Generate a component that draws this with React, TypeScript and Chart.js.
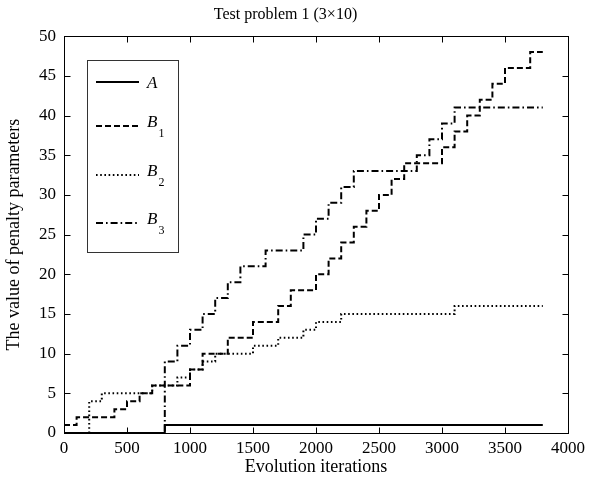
import React, { useEffect, useRef } from 'react';
import { Chart, registerables } from 'chart.js';

Chart.register(...registerables);

const FONT = "'Liberation Serif', 'Times New Roman', serif";

const chartTitle = 'Test problem 1 (3×10)';
const xTitle = 'Evolution iterations';
const yTitle = 'The value of penalty parameters';

const seriesNames = ['A', 'B1', 'B2', 'B3'];

const aX = [0, 800, 3800];
const aY = [0, 1, 1];

const b1X = [0, 100, 400, 500, 600, 700, 1000, 1100, 1300, 1500, 1700, 1800, 2000, 2100, 2200, 2300, 2400, 2500, 2600, 2700, 3000, 3100, 3200, 3300, 3400, 3500, 3700, 3800];
const b1Y = [1, 2, 3, 4, 5, 6, 8, 10, 12, 14, 16, 18, 20, 22, 24, 26, 28, 30, 32, 34, 36, 38, 40, 42, 44, 46, 48, 48];

const b2X = [0, 200, 300, 700, 900, 1000, 1100, 1200, 1500, 1700, 1900, 2000, 2200, 3100, 3800];
const b2Y = [0, 4, 5, 6, 7, 8, 9, 10, 11, 12, 13, 14, 15, 16, 16];

const b3X = [0, 800, 900, 1000, 1100, 1200, 1300, 1400, 1600, 1900, 2000, 2100, 2200, 2300, 2800, 2900, 3000, 3100, 3800];
const b3Y = [0, 9, 11, 13, 15, 17, 19, 21, 23, 25, 27, 29, 31, 33, 35, 37, 39, 41, 41];

const xMin = 0, xMax = 4000, xStep = 500;
const yMin = 0, yMax = 50, yStep = 5;

const dashes: number[][] = [[], [6, 3], [1.6, 2.6], [7, 3, 1.6, 3]];

const toPoints = (xs: number[], ys: number[]) => xs.map((x, i) => ({ x, y: ys[i] }));

const framePlugin = {
  id: 'frameAndLegend',
  afterDraw(chart: any) {
    const { ctx, chartArea, scales } = chart;
    const { left, right, top, bottom } = chartArea;
    const xs = scales.x;
    const ys = scales.y;
    ctx.save();
    ctx.strokeStyle = '#000';
    ctx.lineWidth = 1;
    ctx.setLineDash([]);
    const L = Math.round(left) + 0.5, R = Math.round(right) + 0.5;
    const T = Math.round(top) + 0.5, B = Math.round(bottom) + 0.5;
    ctx.strokeRect(L, T, R - L, B - T);
    const tl = 6;
    ctx.beginPath();
    xs.ticks.forEach((t: any) => {
      const p = Math.round(xs.getPixelForValue(t.value)) + 0.5;
      ctx.moveTo(p, B); ctx.lineTo(p, B - tl);
      ctx.moveTo(p, T); ctx.lineTo(p, T + tl);
    });
    ys.ticks.forEach((t: any) => {
      const p = Math.round(ys.getPixelForValue(t.value)) + 0.5;
      ctx.moveTo(L, p); ctx.lineTo(L + tl, p);
      ctx.moveTo(R, p); ctx.lineTo(R - tl, p);
    });
    ctx.stroke();

    // legend
    const bx = 87.5, by = 60.5, bw = 91, bh = 192;
    ctx.fillStyle = '#fff';
    ctx.fillRect(bx, by, bw, bh);
    ctx.strokeStyle = '#333';
    ctx.strokeRect(bx, by, bw, bh);
    const rowY = [82, 126, 175, 223];
    chart.data.datasets.forEach((ds: any, i: number) => {
      const y = rowY[i];
      ctx.strokeStyle = '#000';
      ctx.lineWidth = 2;
      ctx.setLineDash(ds.borderDash || []);
      ctx.beginPath();
      ctx.moveTo(96, y);
      ctx.lineTo(139, y);
      ctx.stroke();
      ctx.setLineDash([]);
      const name: string = ds.label;
      const main = name.charAt(0);
      const sub = name.slice(1);
      ctx.fillStyle = '#000';
      ctx.textAlign = 'left';
      ctx.textBaseline = 'alphabetic';
      ctx.font = `italic 17px ${FONT}`;
      if (!sub) {
        ctx.fillText(main, 147, y + 6);
      } else {
        ctx.fillText(main, 147, y + 1);
        const w = ctx.measureText(main).width;
        ctx.font = `12px ${FONT}`;
        ctx.fillText(sub, 147 + w + 1, y + 11);
      }
    });
    ctx.restore();
  },
};

export default function App() {
  const ref = useRef<HTMLCanvasElement | null>(null);
  useEffect(() => {
    if (!ref.current) return;
    const seriesX = [aX, b1X, b2X, b3X];
    const seriesY = [aY, b1Y, b2Y, b3Y];
    const chart = new Chart(ref.current, {
      type: 'line',
      data: {
        datasets: seriesNames.map((name, i) => ({
          label: name,
          data: toPoints(seriesX[i], seriesY[i]),
          borderColor: '#000',
          backgroundColor: '#000',
          borderWidth: 2,
          borderDash: dashes[i],
          pointRadius: 0,
          stepped: 'before' as const,
          fill: false,
        })),
      },
      options: {
        animation: false,
        responsive: false,
        devicePixelRatio: 1,
        layout: { padding: { left: 0, right: 19, top: 0, bottom: 0 } },
        plugins: {
          legend: { display: false },
          tooltip: { enabled: false },
          title: {
            display: true,
            text: chartTitle,
            color: '#000',
            font: { family: FONT, size: 16, weight: 'normal' },
            padding: { top: 5, bottom: 12 },
          },
        },
        scales: {
          x: {
            type: 'linear',
            min: xMin,
            max: xMax,
            grid: { display: false, drawTicks: false },
            border: { display: false },
            ticks: {
              stepSize: xStep,
              color: '#000',
              font: { family: FONT, size: 17 },
              padding: 5,
              maxRotation: 0,
              autoSkip: false,
              callback: (v: any) => String(v),
            },
            title: {
              display: true,
              text: xTitle,
              color: '#000',
              font: { family: FONT, size: 18 },
              padding: { top: 0, bottom: 3 },
            },
            afterFit: (s: any) => { s.height = 48; },
          },
          y: {
            type: 'linear',
            min: yMin,
            max: yMax,
            grid: { display: false, drawTicks: false },
            border: { display: false },
            ticks: {
              stepSize: yStep,
              color: '#000',
              font: { family: FONT, size: 17 },
              padding: 8,
              callback: (v: any) => String(v),
            },
            title: {
              display: true,
              text: yTitle,
              color: '#000',
              font: { family: FONT, size: 18 },
              padding: { top: 3, bottom: 0 },
            },
            afterFit: (s: any) => { s.width = 64; },
          },
        },
      },
      plugins: [framePlugin],
    } as any);
    return () => chart.destroy();
  }, []);
  return (
    <div style={{ position: 'fixed', left: 0, top: 0, width: 590, height: 481, background: '#fff' }}>
      <canvas ref={ref} width={590} height={481} style={{ display: 'block', width: 590, height: 481 }} />
    </div>
  );
}
